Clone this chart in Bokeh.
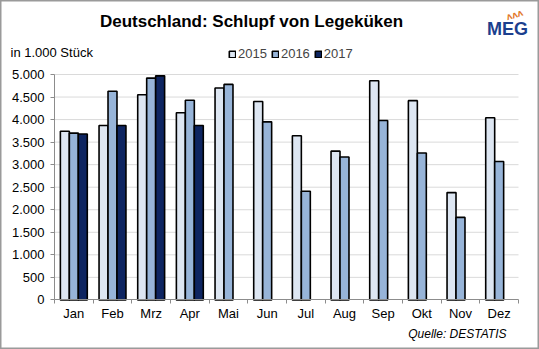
from bokeh.plotting import figure
from bokeh.models import (ColumnDataSource, Label, Legend, LegendItem, FixedTicker, LinearAxis)
from bokeh.embed import file_html
from bokeh.resources import INLINE

months = ["Jan", "Feb", "Mrz", "Apr", "Mai", "Jun", "Jul", "Aug", "Sep", "Okt", "Nov", "Dez"]
v2015 = [3740, 3870, 4550, 4150, 4700, 4400, 3640, 3300, 4860, 4420, 2380, 4040]
v2016 = [3700, 4630, 4920, 4430, 4780, 3950, 2410, 3170, 3980, 3260, 1830, 3070]
v2017 = [3680, 3870, 4970, 3870]
years = ["2015", "2016", "2017"]
colors = ["#dde6f2", "#97b4d8", "#0e2561"]
yticks = list(range(0, 5001, 500))

W, H = 539, 349
# plot area in canvas pixels
PL, PR, PT, PB = 54, 518, 74, 299.4
n = len(months)
xu = (PR - PL) / n              # px per category
yu = (PB - PT) / yticks[-1]     # px per unit
x_start = -PL / xu
x_end = n + (W - PR) / xu
y_end = yticks[-1] + PT / yu
y_start = -(H - PB) / yu

p = figure(width=W, height=H, x_range=(x_start, x_end), y_range=(y_start, y_end),
           output_backend="svg", toolbar_location=None,
           min_border_left=0, min_border_right=0, min_border_top=0, min_border_bottom=0)
p.outline_line_color = "#9a9a9a"
p.outline_line_width = 2
p.background_fill_color = "white"
p.border_fill_color = "white"
p.xgrid.grid_line_color = None
p.ygrid.grid_line_color = None

# horizontal gridlines
gy = yticks[1:]
p.segment(x0=[0] * len(gy), x1=[n] * len(gy), y0=gy, y1=gy, line_color="#dadada", line_width=1)

series = [v2015, v2016, v2017]
bw = 0.232
offsets = [-bw, 0.0, bw]
renderers = []
for vals, col, off in zip(series, colors, offsets):
    xs = [i + 0.5 + off for i in range(len(vals))]
    src = ColumnDataSource(dict(x=xs, top=vals))
    r = p.vbar(x="x", top="top", width=bw, bottom=0, source=src,
               fill_color=col, line_color="black", line_width=1.6)
    renderers.append(r)

AX = "#8c8c8c"
FONT = "Liberation Sans"

# y axis at x = 0
ya = p.yaxis[0]
ya.fixed_location = 0
ya.bounds = (0, yticks[-1])
ya.ticker = FixedTicker(ticks=yticks)
ya.major_label_overrides = {v: f"{v:,}".replace(",", ".") for v in yticks}
ya.axis_line_color = AX
ya.major_tick_line_color = AX
ya.major_tick_in = 0
ya.major_tick_out = 4
ya.minor_tick_line_color = None
ya.major_label_standoff = 6
ya.major_label_text_font = FONT
ya.major_label_text_font_size = "13px"
ya.major_label_text_color = "black"

# x axis at y = 0: boundary ticks
xa = p.xaxis[0]
xa.fixed_location = 0
xa.bounds = (0, n)
xa.ticker = FixedTicker(ticks=list(range(n + 1)))
xa.major_label_overrides = {i: "" for i in range(n + 1)}
xa.axis_line_color = AX
xa.major_tick_line_color = AX
xa.major_tick_in = 0
xa.major_tick_out = 4
xa.minor_tick_line_color = None

# month labels at category centres
xl = LinearAxis(fixed_location=0, ticker=FixedTicker(ticks=[i + 0.5 for i in range(n)]),
                major_label_overrides={i + 0.5: m for i, m in enumerate(months)},
                axis_line_color=None, major_tick_line_color=None, minor_tick_line_color=None,
                major_label_standoff=0, major_label_text_font=FONT,
                major_label_text_font_size="13px", major_label_text_color="black")
p.add_layout(xl, "below")

def lab(text, cx, cy, size, align="left", style="normal", color="black", angle=0):
    p.add_layout(Label(x=cx, y=H - cy, x_units="screen", y_units="screen",
                       text=text, text_font=FONT, text_font_size=size, text_align=align,
                       text_baseline="middle", text_font_style=style, text_color=color,
                       angle=angle))

lab("Deutschland: Schlupf von Legeküken", 251, 21, "17px", align="center", style="bold")
lab("in 1.000 Stück", 10, 52, "13px")
lab("Quelle: DESTATIS", 506, 333, "12px", align="right", style="italic")
lab("MEG", 507, 28, "18px", align="center", style="bold", color="#1c3f8e")
lab("ʌʌʌ", 514, 14, "10px", align="center", style="bold", color="#e2782a", angle=0.3)

legend = Legend(items=[LegendItem(label=y, renderers=[r]) for y, r in zip(years, renderers)],
                orientation="horizontal", location=(228, H - 61),
                glyph_width=8, glyph_height=8, label_standoff=2, spacing=4,
                padding=0, margin=0, border_line_color=None, background_fill_alpha=0,
                label_text_font=FONT, label_text_font_size="13px",
                label_height=10)
p.add_layout(legend, "center")

open("out.html", "w").write(file_html(p, INLINE))
